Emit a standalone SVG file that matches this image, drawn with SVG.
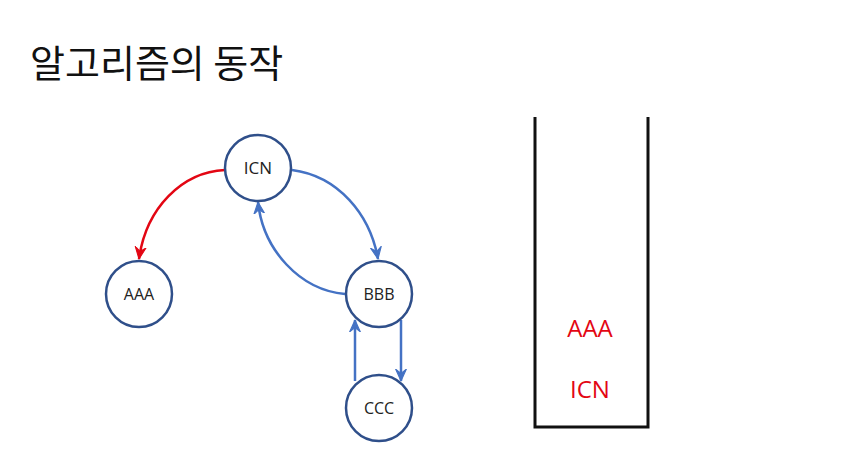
<svg xmlns="http://www.w3.org/2000/svg" width="853" height="454" viewBox="0 0 853 454">
<defs>
<style>
.node{fill:#fff;stroke:#2F4F8A;stroke-width:2.5}
.lbl{font-family:"Open Sans","Noto Sans",sans-serif;font-size:16px;fill:#222;text-anchor:middle}
.blue{fill:none;stroke:#4472C4;stroke-width:2.5}
.red{fill:none;stroke:#E30613;stroke-width:2.5}
.stk{fill:none;stroke:#111;stroke-width:3}
.st{font-family:"Open Sans","Noto Sans",sans-serif;font-size:24px;font-weight:500;fill:#E30613;text-anchor:middle}
</style>
<marker id="ab" viewBox="0 0 12 12" refX="11" refY="6" markerWidth="13" markerHeight="13" markerUnits="userSpaceOnUse" orient="auto">
<path d="M0,1 L11,6 L0,11 L4,6 Z" fill="#4472C4" stroke="#4472C4" stroke-width="1" stroke-linejoin="round"/>
</marker>
<marker id="ar" viewBox="0 0 12 12" refX="11" refY="6" markerWidth="13" markerHeight="13" markerUnits="userSpaceOnUse" orient="auto">
<path d="M0,1 L11,6 L0,11 L4,6 Z" fill="#E30613" stroke="#E30613" stroke-width="1" stroke-linejoin="round"/>
</marker>
</defs>
<rect width="853" height="454" fill="#fff"/>
<text x="30" y="77" font-family="'Noto Sans CJK KR',sans-serif" font-size="38" fill="#111">알고리즘의 동작</text>
<g id="connectors">
<path class="red" d="M225,170 C182,172 146,208 139,259" marker-end="url(#ar)"/>
<path class="blue" d="M292,170 C338,176 370,214 378,259" marker-end="url(#ab)"/>
<path class="blue" d="M345,294 C300,290 263,250 258,202" marker-end="url(#ab)"/>
<path class="blue" d="M401,320 L401,381" marker-end="url(#ab)"/>
<path class="blue" d="M355,381 L355,320" marker-end="url(#ab)"/>
</g>
<g id="ICN"><circle class="node" cx="258" cy="168" r="33"/><text class="lbl" x="258" y="174" style="font-size:17px">ICN</text></g>
<g id="AAA"><circle class="node" cx="139" cy="294" r="33"/><text class="lbl" x="139" y="300">AAA</text></g>
<g id="BBB"><circle class="node" cx="379" cy="294" r="33"/><text class="lbl" x="379" y="300">BBB</text></g>
<g id="CCC"><circle class="node" cx="379" cy="408" r="33"/><text class="lbl" x="379" y="414">CCC</text></g>
<g id="stack">
<path class="stk" d="M535,117 L535,427 L648,427 L648,117"/>
<text class="st" x="590" y="337">AAA</text>
<text class="st" x="590" y="398">ICN</text>
</g>
</svg>
